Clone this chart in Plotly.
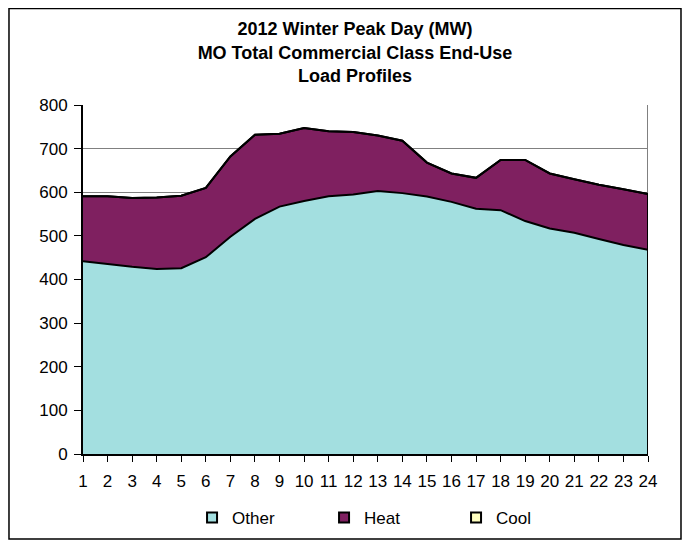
import plotly.graph_objects as go

hours = list(range(1, 25))
other = [442, 435, 429, 424, 426, 451, 498, 539, 567, 580, 591, 595,
         603, 598, 590, 578, 562, 559, 534, 517, 507, 493, 479, 468]
heat = [149, 156, 158, 164, 166, 159, 184, 193, 167, 167, 149, 143,
        127, 120, 78, 65, 71, 115, 140, 126, 123, 124, 128, 128]
cool = [0] * 24
y_ticks = list(range(0, 801, 100))

series = [("Other", other, "#A3DFE0"), ("Heat", heat, "#7F2060"), ("Cool", cool, "#FFFFC0")]

fig = go.Figure()
for name, vals, col in series:
    fig.add_trace(go.Scatter(x=hours, y=vals, name=name, mode="lines", stackgroup="one",
                             line=dict(color="black", width=2), fillcolor=col,
                             showlegend=False, hoverinfo="x+y+name"))
for name, vals, col in series:
    fig.add_trace(go.Scatter(x=[None], y=[None], name=name, mode="markers",
                             marker=dict(symbol="square", size=10, color=col,
                                         line=dict(color="black", width=2))))

total_last = other[-1] + heat[-1] + cool[-1]
FONT = "Liberation Sans, Arial, sans-serif"

fig.update_layout(
    width=682, height=542,
    margin=dict(l=75, r=42, t=97, b=96),
    paper_bgcolor="white", plot_bgcolor="white",
    font=dict(family=FONT, size=17, color="black"),
    title=dict(text="<b>2012 Winter Peak Day (MW)<br>MO Total Commercial Class End-Use<br>Load Profiles</b>",
               x=0.5088, xanchor="center", y=0.9493, yanchor="middle",
               font=dict(family=FONT, size=18, color="black")),
    xaxis=dict(range=[1, 24], tickvals=hours, ticktext=[str(h) for h in hours],
               ticks="outside", ticklen=6, tickcolor="black", tickwidth=1,
               ticklabelstandoff=5,
               showline=True, linecolor="black", linewidth=2, showgrid=False,
               zeroline=False, fixedrange=True),
    yaxis=dict(range=[0, 800], tickvals=y_ticks, ticks="outside", ticklen=7,
               tickcolor="black", tickwidth=1, ticklabelstandoff=3,
               showline=True, linecolor="black",
               linewidth=2, showgrid=True, gridcolor="#808080", gridwidth=1,
               zeroline=False, fixedrange=True),
    legend=dict(orientation="h", x=0.193, xanchor="left", y=-0.1834, yanchor="middle",
                entrywidth=87, entrywidthmode="pixels", font=dict(size=17),
                traceorder="normal", bgcolor="rgba(0,0,0,0)"),
    shapes=[
        dict(type="line", xref="x", yref="y", x0=24, x1=24, y0=0, y1=800,
             line=dict(color="#808080", width=2), layer="below"),
        dict(type="line", xref="x", yref="y", x0=24, x1=24, y0=0, y1=total_last,
             line=dict(color="black", width=2), layer="above"),
        dict(type="rect", xref="paper", yref="paper", x0=-0.1310, x1=1.0584,
             y0=-0.2436, y1=1.2765, line=dict(color="black", width=1.5)),
    ],
)

fig.write_html("out.html")
